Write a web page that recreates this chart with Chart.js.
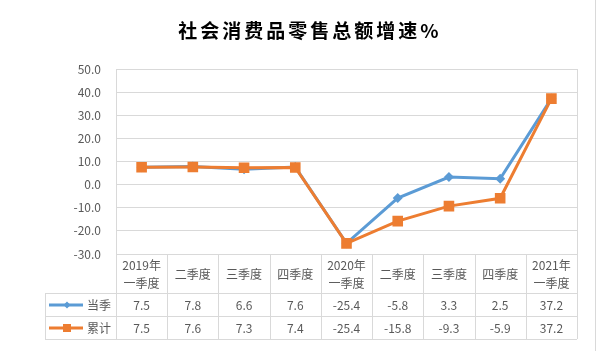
<!DOCTYPE html>
<html>
<head>
<meta charset="utf-8">
<script src="https://cdn.jsdelivr.net/npm/chart.js@4/dist/chart.umd.min.js"></script>
<style>
  html, body { margin: 0; padding: 0; background: #fff; }
  #wrap { width: 602px; height: 353px; }
</style>
</head>
<body>
<div id="wrap"><canvas id="c" width="602" height="353"></canvas></div>
<script>
// 季度标签（表头两行）
const labels = [["2019年", "一季度"], "二季度", "三季度", "四季度", ["2020年", "一季度"], "二季度", "三季度", "四季度", ["2021年", "一季度"]];
const dangji = [7.5, 7.8, 6.6, 7.6, -25.4, -5.8, 3.3, 2.5, 37.2];   // 当季
const leiji = [7.5, 7.6, 7.3, 7.4, -25.4, -15.8, -9.3, -5.9, 37.2];  // 累计
const seriesNames = ["当季", "累计"];
const chartTitle = "社会消费品零售总额增速%";

const BLUE = "#5b9bd5";
const ORANGE = "#ed7d31";
const GRID = "#d9d9d9";
const TEXT = "#595959";
const FONT = "'Noto Sans CJK SC', 'Noto Sans', sans-serif";

// 标题 + 数据表 + 右侧边框
const tablePlugin = {
  id: "tablePlugin",
  afterDraw(chart) {
    const ctx = chart.ctx;
    const area = chart.chartArea;
    const xs = chart.scales.x;
    const step = xs.getPixelForValue(1) - xs.getPixelForValue(0);
    const left = area.left, right = area.right, top = area.bottom;
    const headBottom = top + 39, row1 = headBottom + 23, row2 = row1 + 23;
    const legendLeft = 45;

    ctx.save();
    // 标题
    ctx.fillStyle = "#000";
    ctx.font = "bold 19px " + FONT;
    ctx.textAlign = "center";
    ctx.textBaseline = "middle";
    ctx.letterSpacing = "3px";
    ctx.fillText(chartTitle, 310, 31);
    ctx.letterSpacing = "0px";

    // 右侧外框线
    ctx.strokeStyle = GRID;
    ctx.lineWidth = 1;
    ctx.beginPath();
    ctx.moveTo(595.5, 0); ctx.lineTo(595.5, 351);
    // 绘图区右边线
    ctx.moveTo(right + 0.5, area.top); ctx.lineTo(right + 0.5, top);
    // 表格横线
    ctx.moveTo(left, top + 0.5); ctx.lineTo(right, top + 0.5);
    ctx.moveTo(legendLeft, headBottom + 0.5); ctx.lineTo(right, headBottom + 0.5);
    ctx.moveTo(legendLeft, row1 + 0.5); ctx.lineTo(right, row1 + 0.5);
    ctx.moveTo(legendLeft, row2 + 0.5); ctx.lineTo(right, row2 + 0.5);
    ctx.moveTo(legendLeft + 0.5, headBottom); ctx.lineTo(legendLeft + 0.5, row2);
    // 表格竖线
    for (let i = 0; i <= labels.length; i++) {
      const x = Math.round(xs.getPixelForValue(i) - step / 2) + 0.5;
      ctx.moveTo(x, top); ctx.lineTo(x, row2);
    }
    ctx.stroke();

    // 表头
    ctx.fillStyle = TEXT;
    ctx.font = "12px " + FONT;
    labels.forEach((lab, i) => {
      const x = xs.getPixelForValue(i);
      if (Array.isArray(lab)) {
        ctx.fillText(lab[0], x, top + 11);
        ctx.fillText(lab[1], x, top + 29);
      } else {
        ctx.fillText(lab, x, top + 20);
      }
      ctx.fillText(dangji[i].toFixed(1), x, headBottom + 12);
      ctx.fillText(leiji[i].toFixed(1), x, row1 + 12);
    });

    // 图例
    const rows = [[headBottom + 12, BLUE, "d"], [row1 + 12, ORANGE, "s"]];
    rows.forEach(([y, col, m], k) => {
      ctx.strokeStyle = col;
      ctx.lineWidth = 3;
      ctx.beginPath();
      ctx.moveTo(49, y); ctx.lineTo(83, y);
      ctx.stroke();
      ctx.fillStyle = col;
      ctx.beginPath();
      if (m === "d") {
        ctx.moveTo(67, y - 3.5); ctx.lineTo(70.5, y); ctx.lineTo(67, y + 3.5); ctx.lineTo(63.5, y);
      } else {
        ctx.rect(63, y - 4, 8, 8);
      }
      ctx.fill();
      ctx.fillStyle = TEXT;
      ctx.textAlign = "left";
      ctx.fillText(seriesNames[k], 87, y);
      ctx.textAlign = "center";
    });
    ctx.restore();
  }
};

new Chart(document.getElementById("c"), {
  type: "line",
  data: {
    labels: labels,
    datasets: [
      {
        label: seriesNames[0],
        data: dangji,
        borderColor: BLUE,
        backgroundColor: BLUE,
        borderWidth: 3,
        pointStyle: "rectRot",
        pointRadius: 5,
        pointBorderWidth: 0,
        tension: 0,
        order: 1
      },
      {
        label: seriesNames[1],
        data: leiji,
        borderColor: ORANGE,
        backgroundColor: ORANGE,
        borderWidth: 3,
        pointStyle: "rect",
        pointRadius: 7.5,
        pointBorderWidth: 0,
        tension: 0,
        order: 0
      }
    ]
  },
  options: {
    responsive: false,
    animation: false,
    devicePixelRatio: 1,
    layout: { padding: { top: 69, right: 25, bottom: 99, left: 0 } },
    plugins: {
      legend: { display: false },
      title: { display: false },
      tooltip: { enabled: false }
    },
    scales: {
      x: {
        display: false,
        offset: true
      },
      y: {
        min: -30,
        max: 50,
        afterFit(scale) { scale.width = 116; },
        ticks: {
          stepSize: 10,
          padding: 15,
          color: TEXT,
          font: { family: FONT, size: 12 },
          callback: v => v.toFixed(1)
        },
        grid: { color: GRID, drawTicks: false },
        border: { color: GRID }
      }
    }
  },
  plugins: [tablePlugin]
});
</script>
</body>
</html>
